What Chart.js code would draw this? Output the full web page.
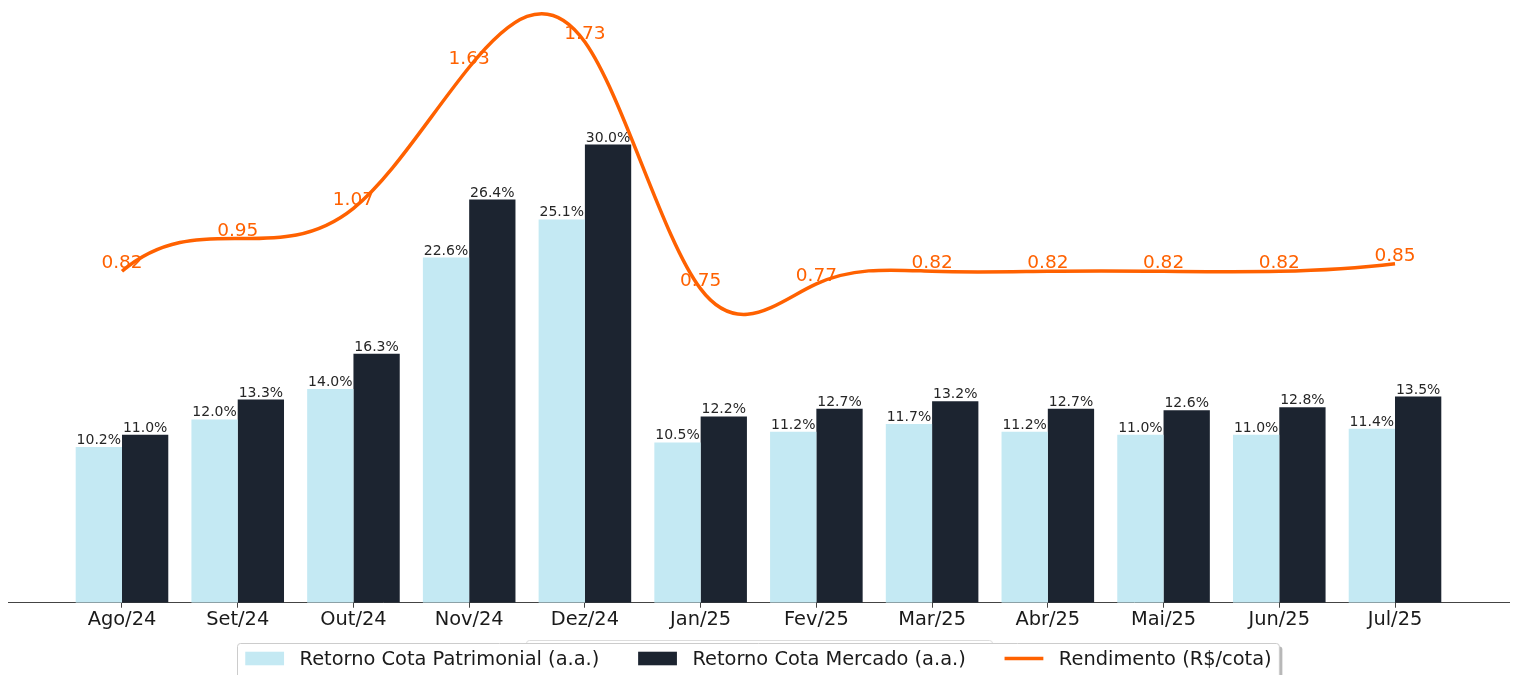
<!DOCTYPE html>
<html lang="pt-BR">
<head>
<meta charset="utf-8">
<title>Retorno e Rendimento</title>
<script src="https://cdn.jsdelivr.net/npm/chart.js@4/dist/chart.umd.min.js"></script>
<style>
  html, body { margin: 0; padding: 0; background: #fff; }
  canvas { display: block; }
</style>
</head>
<body>
<canvas id="chart" width="1517" height="675"></canvas>
<script>
  // categorias (meses)
  const months = ['Ago/24', 'Set/24', 'Out/24', 'Nov/24', 'Dez/24', 'Jan/25',
    'Fev/25', 'Mar/25', 'Abr/25', 'Mai/25', 'Jun/25', 'Jul/25'];

  // retorno anualizado, em %
  const cotaPatrimonial = [10.2, 12.0, 14.0, 22.6, 25.1, 10.5, 11.2, 11.7, 11.2, 11.0, 11.0, 11.4];
  const cotaMercado = [11.0, 13.3, 16.3, 26.4, 30.0, 12.2, 12.7, 13.2, 12.7, 12.6, 12.8, 13.5];

  // rendimento distribuido, R$/cota
  const rendimento = [0.82, 0.95, 1.07, 1.63, 1.73, 0.75, 0.77, 0.82, 0.82, 0.82, 0.82, 0.85];

  const seriesNames = ['Retorno Cota Patrimonial (a.a.)', 'Retorno Cota Mercado (a.a.)', 'Rendimento (R$/cota)'];

  const LIGHT = '#c4e9f3';
  const DARK = '#1c2430';
  const ORANGE = '#ff6100';
  const FONT = "'DejaVu Sans', Verdana, sans-serif";

  const toXY = (arr) => arr.map((v, i) => ({ x: i, y: v }));

  // derivadas de uma spline cubica "not-a-knot" com passo 1
  function splineSlopes(y) {
    const n = y.length;
    const A = Array.from({ length: n }, () => new Array(n).fill(0));
    const b = new Array(n).fill(0);
    A[0][0] = 1; A[0][1] = -2; A[0][2] = 1;
    for (let i = 1; i < n - 1; i++) {
      A[i][i - 1] = 1; A[i][i] = 4; A[i][i + 1] = 1;
      b[i] = 6 * (y[i + 1] - 2 * y[i] + y[i - 1]);
    }
    A[n - 1][n - 3] = 1; A[n - 1][n - 2] = -2; A[n - 1][n - 1] = 1;

    // eliminacao de Gauss com pivoteamento
    for (let c = 0; c < n; c++) {
      let p = c;
      for (let r = c + 1; r < n; r++) if (Math.abs(A[r][c]) > Math.abs(A[p][c])) p = r;
      [A[c], A[p]] = [A[p], A[c]];
      [b[c], b[p]] = [b[p], b[c]];
      for (let r = c + 1; r < n; r++) {
        const f = A[r][c] / A[c][c];
        if (!f) continue;
        for (let k = c; k < n; k++) A[r][k] -= f * A[c][k];
        b[r] -= f * b[c];
      }
    }
    const M = new Array(n).fill(0);
    for (let r = n - 1; r >= 0; r--) {
      let s = b[r];
      for (let k = r + 1; k < n; k++) s -= A[r][k] * M[k];
      M[r] = s / A[r][r];
    }

    const d = [];
    for (let i = 0; i < n - 1; i++) d.push((y[i + 1] - y[i]) - (2 * M[i] + M[i + 1]) / 6);
    d.push((y[n - 1] - y[n - 2]) + (M[n - 2] + 2 * M[n - 1]) / 6);
    return d;
  }

  // troca os pontos de controle do Chart.js por uma spline suave
  const smoothLine = {
    id: 'smoothLine',
    beforeDatasetDraw(chart, args) {
      const meta = args.meta;
      if (meta.type !== 'line') return;
      const line = meta.dataset;
      line.updateControlPoints(chart.chartArea, 'x');
      const pts = meta.data;
      const h = pts[1].x - pts[0].x;
      const slopes = splineSlopes(pts.map((p) => p.y));
      pts.forEach((p, i) => {
        p.cp1x = p.x - h / 3;
        p.cp1y = p.y - slopes[i] / 3;
        p.cp2x = p.x + h / 3;
        p.cp2y = p.y + slopes[i] / 3;
      });
      delete line._path;
    }
  };

  // rotulos de valor sobre barras e pontos
  const valueLabels = {
    id: 'valueLabels',
    afterDatasetsDraw(chart) {
      const ctx = chart.ctx;
      ctx.save();
      ctx.textAlign = 'center';
      ctx.textBaseline = 'alphabetic';
      chart.data.datasets.forEach((ds, di) => {
        const meta = chart.getDatasetMeta(di);
        meta.data.forEach((el, i) => {
          const v = ds.data[i].y;
          if (ds.type === 'line') {
            ctx.font = '18.5px ' + FONT;
            ctx.fillStyle = ORANGE;
            ctx.fillText(v.toFixed(2), el.x, el.y - 3);
          } else {
            ctx.font = '14px ' + FONT;
            ctx.fillStyle = '#262626';
            ctx.fillText(v.toFixed(1) + '%', el.x, el.y - 3);
          }
        });
      });
      ctx.restore();
    }
  };

  function roundRect(ctx, x, y, w, h, r) {
    ctx.beginPath();
    ctx.moveTo(x + r, y);
    ctx.lineTo(x + w - r, y);
    ctx.quadraticCurveTo(x + w, y, x + w, y + r);
    ctx.lineTo(x + w, y + h - r);
    ctx.quadraticCurveTo(x + w, y + h, x + w - r, y + h);
    ctx.lineTo(x + r, y + h);
    ctx.quadraticCurveTo(x, y + h, x, y + h - r);
    ctx.lineTo(x, y + r);
    ctx.quadraticCurveTo(x, y, x + r, y);
    ctx.closePath();
  }

  // legenda desenhada a mao, no estilo da figura original
  const bottomLegend = {
    id: 'bottomLegend',
    afterDraw(chart) {
      const ctx = chart.ctx;
      const fs = 19.4;
      const handle = 2 * fs, pad = 0.8 * fs, gap = 2 * fs, border = 0.4 * fs;
      ctx.save();
      ctx.font = fs + 'px ' + FONT;
      const widths = seriesNames.map((s) => ctx.measureText(s).width);
      const inner = widths.reduce((a, w) => a + handle + pad + w, 0) + gap * (seriesNames.length - 1);
      const left = Math.round(chart.width / 2 - inner / 2 - border) - 0.5;
      const top = 643.5;
      const w = inner + 2 * border;

      // borda da legenda escondida atras
      roundRect(ctx, 526.5, 640.5, 466, 60, 3);
      ctx.strokeStyle = '#dcdcdc';
      ctx.lineWidth = 1;
      ctx.stroke();

      // sombra
      roundRect(ctx, left + 3, top + 3, w, 60, 3);
      ctx.fillStyle = '#b8b8b8';
      ctx.fill();

      roundRect(ctx, left, top, w, 60, 3);
      ctx.fillStyle = '#fff';
      ctx.fill();
      ctx.strokeStyle = '#cccccc';
      ctx.stroke();

      const cy = 658.5;
      let x = left + border;
      const colors = [LIGHT, DARK, ORANGE];
      seriesNames.forEach((name, i) => {
        if (i < 2) {
          ctx.fillStyle = colors[i];
          ctx.fillRect(x, cy - 0.35 * fs, handle, 0.7 * fs);
        } else {
          ctx.strokeStyle = ORANGE;
          ctx.lineWidth = 3.5;
          ctx.beginPath();
          ctx.moveTo(x, cy);
          ctx.lineTo(x + handle, cy);
          ctx.stroke();
        }
        x += handle + pad;
        ctx.fillStyle = '#1a1a1a';
        ctx.textBaseline = 'middle';
        ctx.textAlign = 'left';
        ctx.fillText(name, x, cy + 1);
        x += widths[i] + gap;
      });
      ctx.restore();
    }
  };

  new Chart(document.getElementById('chart'), {
    data: {
      datasets: [
        {
          type: 'line',
          label: seriesNames[2],
          data: toXY(rendimento),
          yAxisID: 'y1',
          borderColor: ORANGE,
          borderWidth: 3.5,
          pointRadius: 0,
          tension: 0.4,
          clip: false,
          order: 0,
        },
        {
          type: 'bar',
          label: seriesNames[0],
          data: toXY(cotaPatrimonial),
          yAxisID: 'y',
          backgroundColor: LIGHT,
          categoryPercentage: 0.8,
          barPercentage: 1.0,
          order: 1,
        },
        {
          type: 'bar',
          label: seriesNames[1],
          data: toXY(cotaMercado),
          yAxisID: 'y',
          backgroundColor: DARK,
          categoryPercentage: 0.8,
          barPercentage: 1.0,
          order: 2,
        },
      ],
    },
    options: {
      responsive: false,
      animation: false,
      devicePixelRatio: 1,
      layout: { padding: { left: 8, right: 8, top: 0, bottom: 42 } },
      plugins: {
        legend: { display: false },
        tooltip: { enabled: false },
      },
      scales: {
        x: {
          type: 'linear',
          offset: false,
          min: -0.985,
          max: 11.985,
          afterBuildTicks: (scale) => {
            scale.ticks = months.map((_, i) => ({ value: i }));
          },
          ticks: {
            callback: (v) => months[v] || '',
            color: '#1a1a1a',
            font: { family: FONT, size: 19.4 },
            padding: 1,
            maxRotation: 0,
            autoSkip: false,
          },
          grid: {
            display: true,
            offset: false,
            drawOnChartArea: false,
            drawTicks: true,
            tickLength: 5,
            tickColor: '#444',
          },
          border: { display: true, color: '#444', width: 1 },
        },
        y: {
          display: false,
          min: 0,
          max: 39.47,
        },
        y1: {
          display: false,
          position: 'right',
          min: -0.496,
          max: 1.897,
        },
      },
    },
    plugins: [smoothLine, valueLabels, bottomLegend],
  });
</script>
</body>
</html>
